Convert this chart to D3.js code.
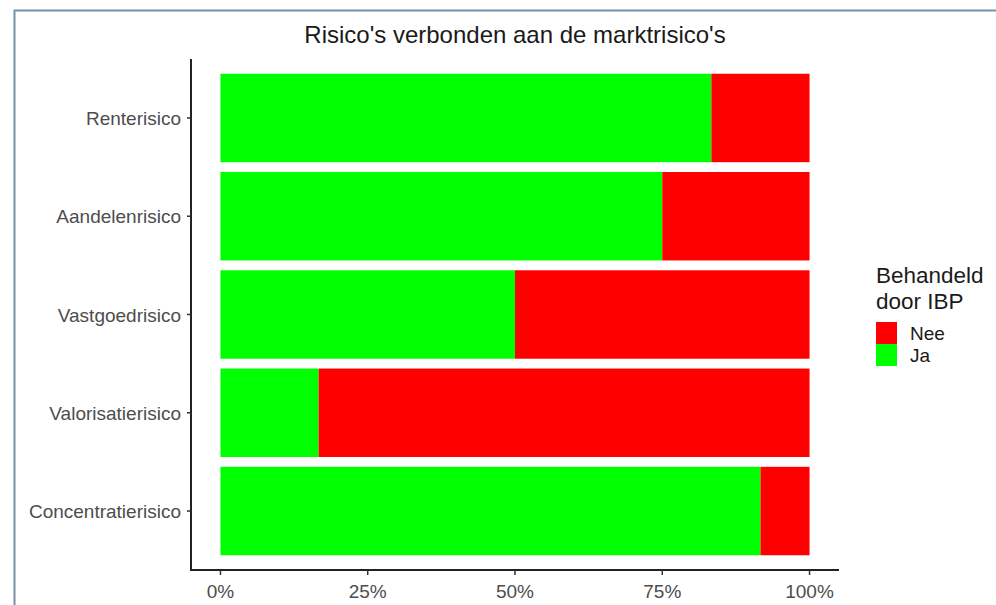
<!DOCTYPE html>
<html>
<head>
<meta charset="utf-8">
<script src="https://cdn.jsdelivr.net/npm/d3@7"></script>
<style>
  html, body { margin: 0; padding: 0; background: #fff; }
  svg { display: block; }
  text { font-family: "Liberation Sans", Arial, sans-serif; }
</style>
</head>
<body>
<svg id="chart" width="996" height="605"></svg>
<script>
const categories = ["Renterisico", "Aandelenrisico", "Vastgoedrisico", "Valorisatierisico", "Concentratierisico"];
const jaShare = [0.8333, 0.75, 0.5, 0.1667, 0.9167];
const neeShare = [0.1667, 0.25, 0.5, 0.8333, 0.0833];
const xTicks = [0, 0.25, 0.5, 0.75, 1];
const xTickLabels = ["0%", "25%", "50%", "75%", "100%"];
const legendTitle = ["Behandeld", "door IBP"];
const legendKeys = ["Nee", "Ja"];
const colors = { Nee: "#ff0000", Ja: "#00ff00" };
const title = "Risico's verbonden aan de marktrisico's";

const svg = d3.select("#chart");

// outer frame
svg.append("rect").attr("x", 14.5).attr("y", 10.5).attr("width", 1000).attr("height", 700)
  .attr("fill", "none").attr("stroke", "#7391a8").attr("stroke-width", 2);

const panel = { left: 191, right: 839, top: 59, bottom: 570 };

const xs = d3.scaleLinear().domain([-0.05, 1.05]).range([panel.left, panel.right]);
const n = categories.length;
const yc = d3.scaleLinear().domain([-0.6, n - 1 + 0.6]).range([panel.top, panel.bottom]);
const barH = yc(0.9) - yc(0);

const rows = categories.map((c, i) => ({ c, i, ja: jaShare[i], nee: neeShare[i] }));

const g = svg.append("g");
g.selectAll("rect.ja").data(rows).enter().append("rect")
  .attr("class", "ja")
  .attr("x", d => xs(0))
  .attr("width", d => xs(d.ja) - xs(0))
  .attr("y", d => yc(d.i) - barH / 2)
  .attr("height", barH)
  .attr("fill", colors.Ja);
g.selectAll("rect.nee").data(rows).enter().append("rect")
  .attr("class", "nee")
  .attr("x", d => xs(d.ja))
  .attr("width", d => xs(d.ja + d.nee) - xs(d.ja))
  .attr("y", d => yc(d.i) - barH / 2)
  .attr("height", barH)
  .attr("fill", colors.Nee);

svg.append("line").attr("x1", panel.left).attr("x2", panel.left)
  .attr("y1", panel.top).attr("y2", panel.bottom + 1)
  .attr("stroke", "#222").attr("stroke-width", 2);
svg.append("line").attr("x1", panel.left - 1).attr("x2", panel.right)
  .attr("y1", panel.bottom).attr("y2", panel.bottom)
  .attr("stroke", "#222").attr("stroke-width", 2);

categories.forEach((c, i) => {
  const y = yc(i);
  svg.append("line").attr("x1", panel.left - 4).attr("x2", panel.left)
    .attr("y1", y).attr("y2", y).attr("stroke", "#333").attr("stroke-width", 1.5);
  svg.append("text").attr("x", panel.left - 10).attr("y", y + 7)
    .attr("text-anchor", "end").attr("font-size", 19).attr("fill", "#4d4d4d").text(c);
});

xTicks.forEach((t, i) => {
  const x = xs(t);
  svg.append("line").attr("x1", x).attr("x2", x)
    .attr("y1", panel.bottom).attr("y2", panel.bottom + 5).attr("stroke", "#333").attr("stroke-width", 1.5);
  svg.append("text").attr("x", x).attr("y", 598)
    .attr("text-anchor", "middle").attr("font-size", 19).attr("fill", "#4d4d4d").text(xTickLabels[i]);
});

svg.append("text").attr("x", (panel.left + panel.right) / 2).attr("y", 43)
  .attr("text-anchor", "middle").attr("font-size", 24).attr("fill", "#1a1a1a").text(title);

legendTitle.forEach((t, i) => {
  svg.append("text").attr("x", 876).attr("y", 283 + i * 25.5)
    .attr("font-size", 22.5).attr("fill", "#1a1a1a").text(t);
});
legendKeys.forEach((k, i) => {
  svg.append("rect").attr("x", 876).attr("y", 322 + i * 22).attr("width", 21).attr("height", 22)
    .attr("fill", colors[k]);
  svg.append("text").attr("x", 910).attr("y", 340 + i * 22)
    .attr("font-size", 19).attr("fill", "#1a1a1a").text(k);
});
</script>
</body>
</html>
